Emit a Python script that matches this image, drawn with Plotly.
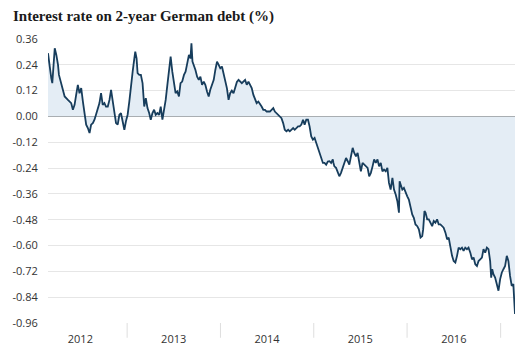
import plotly.graph_objects as go
from datetime import datetime

title_text = "Interest rate on 2-year German debt (%)"

# decimal-year positions and yields (%)
years = [
    2012.154, 2012.172, 2012.189, 2012.200, 2012.226, 2012.243, 2012.261, 2012.271, 2012.296, 2012.314,
    2012.332, 2012.367, 2012.402, 2012.420, 2012.438, 2012.455, 2012.473, 2012.491, 2012.509, 2012.527,
    2012.545, 2012.562, 2012.580, 2012.598, 2012.615, 2012.633, 2012.651, 2012.668, 2012.686, 2012.704,
    2012.721, 2012.739, 2012.757, 2012.774, 2012.793, 2012.811, 2012.828, 2012.846, 2012.864, 2012.881,
    2012.899, 2012.917, 2012.934, 2012.952, 2012.970, 2012.987, 2013.005, 2013.023, 2013.040, 2013.059,
    2013.077, 2013.087, 2013.101, 2013.112, 2013.130, 2013.147, 2013.165, 2013.183, 2013.200, 2013.218,
    2013.236, 2013.253, 2013.271, 2013.289, 2013.306, 2013.324, 2013.343, 2013.360, 2013.378, 2013.396,
    2013.413, 2013.431, 2013.449, 2013.466, 2013.484, 2013.502, 2013.519, 2013.537, 2013.555, 2013.572,
    2013.590, 2013.609, 2013.626, 2013.644, 2013.662, 2013.679, 2013.689, 2013.700, 2013.715, 2013.732,
    2013.750, 2013.768, 2013.785, 2013.803, 2013.821, 2013.838, 2013.856, 2013.874, 2013.891, 2013.910,
    2013.928, 2013.945, 2013.963, 2013.981, 2013.998, 2014.016, 2014.034, 2014.051, 2014.069, 2014.087,
    2014.104, 2014.122, 2014.140, 2014.157, 2014.176, 2014.194, 2014.229, 2014.264, 2014.282, 2014.300,
    2014.317, 2014.335, 2014.353, 2014.370, 2014.388, 2014.406, 2014.423, 2014.441, 2014.459, 2014.477,
    2014.495, 2014.513, 2014.530, 2014.548, 2014.566, 2014.583, 2014.601, 2014.619, 2014.636, 2014.654,
    2014.672, 2014.689, 2014.707, 2014.726, 2014.743, 2014.761, 2014.779, 2014.796, 2014.814, 2014.832,
    2014.849, 2014.867, 2014.885, 2014.902, 2014.920, 2014.938, 2014.955, 2014.973, 2014.991, 2015.009,
    2015.027, 2015.045, 2015.062, 2015.080, 2015.098, 2015.115, 2015.133, 2015.151, 2015.168, 2015.186,
    2015.204, 2015.211, 2015.221, 2015.239, 2015.257, 2015.274, 2015.292, 2015.310, 2015.328, 2015.346,
    2015.364, 2015.381, 2015.399, 2015.417, 2015.434, 2015.452, 2015.470, 2015.487, 2015.505, 2015.523,
    2015.540, 2015.559, 2015.577, 2015.594, 2015.612, 2015.630, 2015.647, 2015.665, 2015.683, 2015.700,
    2015.718, 2015.736, 2015.753, 2015.771, 2015.789, 2015.806, 2015.824, 2015.843, 2015.860, 2015.878,
    2015.896, 2015.913, 2015.920, 2015.931, 2015.949, 2015.966, 2015.984, 2016.002, 2016.019, 2016.037,
    2016.055, 2016.072, 2016.090, 2016.109, 2016.126, 2016.144, 2016.162, 2016.172, 2016.186, 2016.197,
    2016.215, 2016.232, 2016.250, 2016.268, 2016.285, 2016.303, 2016.321, 2016.338, 2016.356, 2016.374,
    2016.391, 2016.410, 2016.428, 2016.445, 2016.463, 2016.481, 2016.498, 2016.516, 2016.534, 2016.551,
    2016.569, 2016.587, 2016.604, 2016.622, 2016.640, 2016.657, 2016.676, 2016.694, 2016.711, 2016.729,
    2016.747, 2016.764, 2016.782, 2016.800, 2016.817, 2016.835, 2016.853, 2016.870, 2016.888, 2016.899,
    2016.910, 2016.923, 2016.941, 2016.960, 2016.977, 2016.995, 2017.013, 2017.030, 2017.048, 2017.066,
    2017.083, 2017.101, 2017.119, 2017.136, 2017.147, 2017.154,
]

rates = [
    0.294, 0.224, 0.178, 0.155, 0.317, 0.286, 0.240, 0.193, 0.147, 0.124,
    0.093, 0.077, 0.062, 0.031, 0.054, 0.100, 0.147, 0.108, 0.132, 0.069,
    0.008, -0.038, -0.054, -0.077, -0.038, -0.031, -0.015, 0.008, 0.039, 0.062,
    0.108, 0.054, 0.062, 0.046, 0.046, 0.077, 0.124, 0.077, 0.031, -0.031,
    -0.038, 0.008, 0.015, -0.031, -0.062, -0.023, 0.008, 0.069, 0.147, 0.208,
    0.270, 0.301, 0.270, 0.201, 0.193, 0.193, 0.155, 0.046, 0.085, 0.039,
    0.016, -0.015, 0.016, 0.031, 0.008, 0.016, 0.008, 0.046, -0.015, 0.031,
    0.077, 0.147, 0.216, 0.278, 0.208, 0.162, 0.108, 0.116, 0.093, 0.155,
    0.162, 0.193, 0.208, 0.247, 0.286, 0.270, 0.340, 0.255, 0.240, 0.216,
    0.185, 0.170, 0.185, 0.147, 0.162, 0.147, 0.116, 0.093, 0.124, 0.147,
    0.170, 0.216, 0.255, 0.240, 0.224, 0.232, 0.201, 0.170, 0.132, 0.077,
    0.108, 0.120, 0.108, 0.132, 0.160, 0.170, 0.155, 0.170, 0.147, 0.162,
    0.147, 0.132, 0.100, 0.085, 0.062, 0.069, 0.054, 0.046, 0.031, 0.031,
    0.023, 0.023, 0.023, 0.031, 0.039, 0.023, 0.016, 0.008, 0.000, -0.008,
    -0.031, -0.062, -0.069, -0.062, -0.069, -0.062, -0.054, -0.062, -0.054, -0.046,
    -0.046, -0.038, -0.015, -0.038, -0.015, -0.015, -0.046, -0.093, -0.108, -0.100,
    -0.123, -0.146, -0.170, -0.200, -0.216, -0.216, -0.224, -0.210, -0.208, -0.216,
    -0.200, -0.216, -0.232, -0.239, -0.262, -0.278, -0.262, -0.239, -0.216, -0.193,
    -0.208, -0.224, -0.185, -0.146, -0.170, -0.185, -0.170, -0.216, -0.255, -0.216,
    -0.224, -0.232, -0.239, -0.278, -0.262, -0.232, -0.200, -0.216, -0.200, -0.232,
    -0.216, -0.255, -0.247, -0.255, -0.239, -0.309, -0.340, -0.285, -0.340, -0.363,
    -0.394, -0.447, -0.301, -0.316, -0.340, -0.332, -0.355, -0.371, -0.386, -0.424,
    -0.455, -0.471, -0.502, -0.510, -0.525, -0.563, -0.556, -0.525, -0.440, -0.447,
    -0.478, -0.478, -0.494, -0.510, -0.486, -0.494, -0.478, -0.502, -0.502, -0.510,
    -0.517, -0.540, -0.571, -0.563, -0.617, -0.648, -0.672, -0.679, -0.648, -0.610,
    -0.617, -0.610, -0.625, -0.610, -0.617, -0.610, -0.633, -0.664, -0.656, -0.687,
    -0.695, -0.672, -0.664, -0.656, -0.617, -0.633, -0.610, -0.617, -0.672, -0.749,
    -0.710, -0.733, -0.749, -0.787, -0.810, -0.756, -0.725, -0.710, -0.695, -0.648,
    -0.672, -0.741, -0.787, -0.779, -0.864, -0.918,
]

year_labels = ["2012", "2013", "2014", "2015", "2016"]
year_bounds = [2013, 2014, 2015, 2016, 2017]
y_ticks = [0.36, 0.24, 0.12, 0.00, -0.12, -0.24, -0.36, -0.48, -0.60, -0.72, -0.84, -0.96]


def dec_to_date(t):
    y = int(t)
    start = datetime(y, 1, 1)
    end = datetime(y + 1, 1, 1)
    return start + (end - start) * (t - y)


dates = [dec_to_date(t) for t in years]

LINE = "#173d5c"
FILL = "#e4edf5"
GRID = "#e6e6e6"
TXT = "#333333"

fig = go.Figure()
fig.add_trace(go.Scatter(
    x=dates, y=rates, mode="lines",
    line=dict(color=LINE, width=1.8),
    fill="tozeroy", fillcolor=FILL,
    hoverinfo="skip", showlegend=False,
))

shapes = []
for yb in year_bounds:
    shapes.append(dict(
        type="line", xref="x", yref="paper",
        x0=datetime(yb, 1, 1), x1=datetime(yb, 1, 1), y0=0, y1=-0.052,
        line=dict(color="#dedede", width=1),
    ))

fig.update_layout(
    width=529, height=364,
    margin=dict(l=45, r=14, t=39, b=41),
    paper_bgcolor="white", plot_bgcolor="white",
    shapes=shapes,
    title=dict(
        text="<b>" + title_text + "</b>",
        x=13 / 529, xanchor="left", xref="container",
        y=1 - 16 / 364, yanchor="middle", yref="container",
        font=dict(family="Liberation Serif, Times New Roman, serif", size=15, color="#1a1a1a"),
    ),
    xaxis=dict(
        type="date",
        range=[dates[0], dates[-1]],
        tickmode="array",
        tickvals=[datetime(int(s), 7, 2) for s in year_labels],
        ticktext=year_labels,
        ticks="outside", ticklen=6, tickcolor="rgba(0,0,0,0)",
        showgrid=False, zeroline=False, showline=False,
        tickfont=dict(family="Open Sans, Liberation Sans, sans-serif", size=11, color=TXT),
    ),
    yaxis=dict(
        range=[-0.96, 0.36],
        tickmode="array",
        tickvals=y_ticks,
        ticktext=["%.2f" % v for v in y_ticks],
        showgrid=True, gridcolor=GRID, gridwidth=1,
        zeroline=True, zerolinecolor="#6f6f6f", zerolinewidth=1.5,
        showline=False, ticks="outside", ticklen=7, tickcolor="rgba(0,0,0,0)",
        tickfont=dict(family="Open Sans, Liberation Sans, sans-serif", size=11, color=TXT),
    ),
)

fig.write_html(
    "out.html",
    config={"displayModeBar": False, "staticPlot": True},
    post_script="document.body.style.margin='0px';",
)
